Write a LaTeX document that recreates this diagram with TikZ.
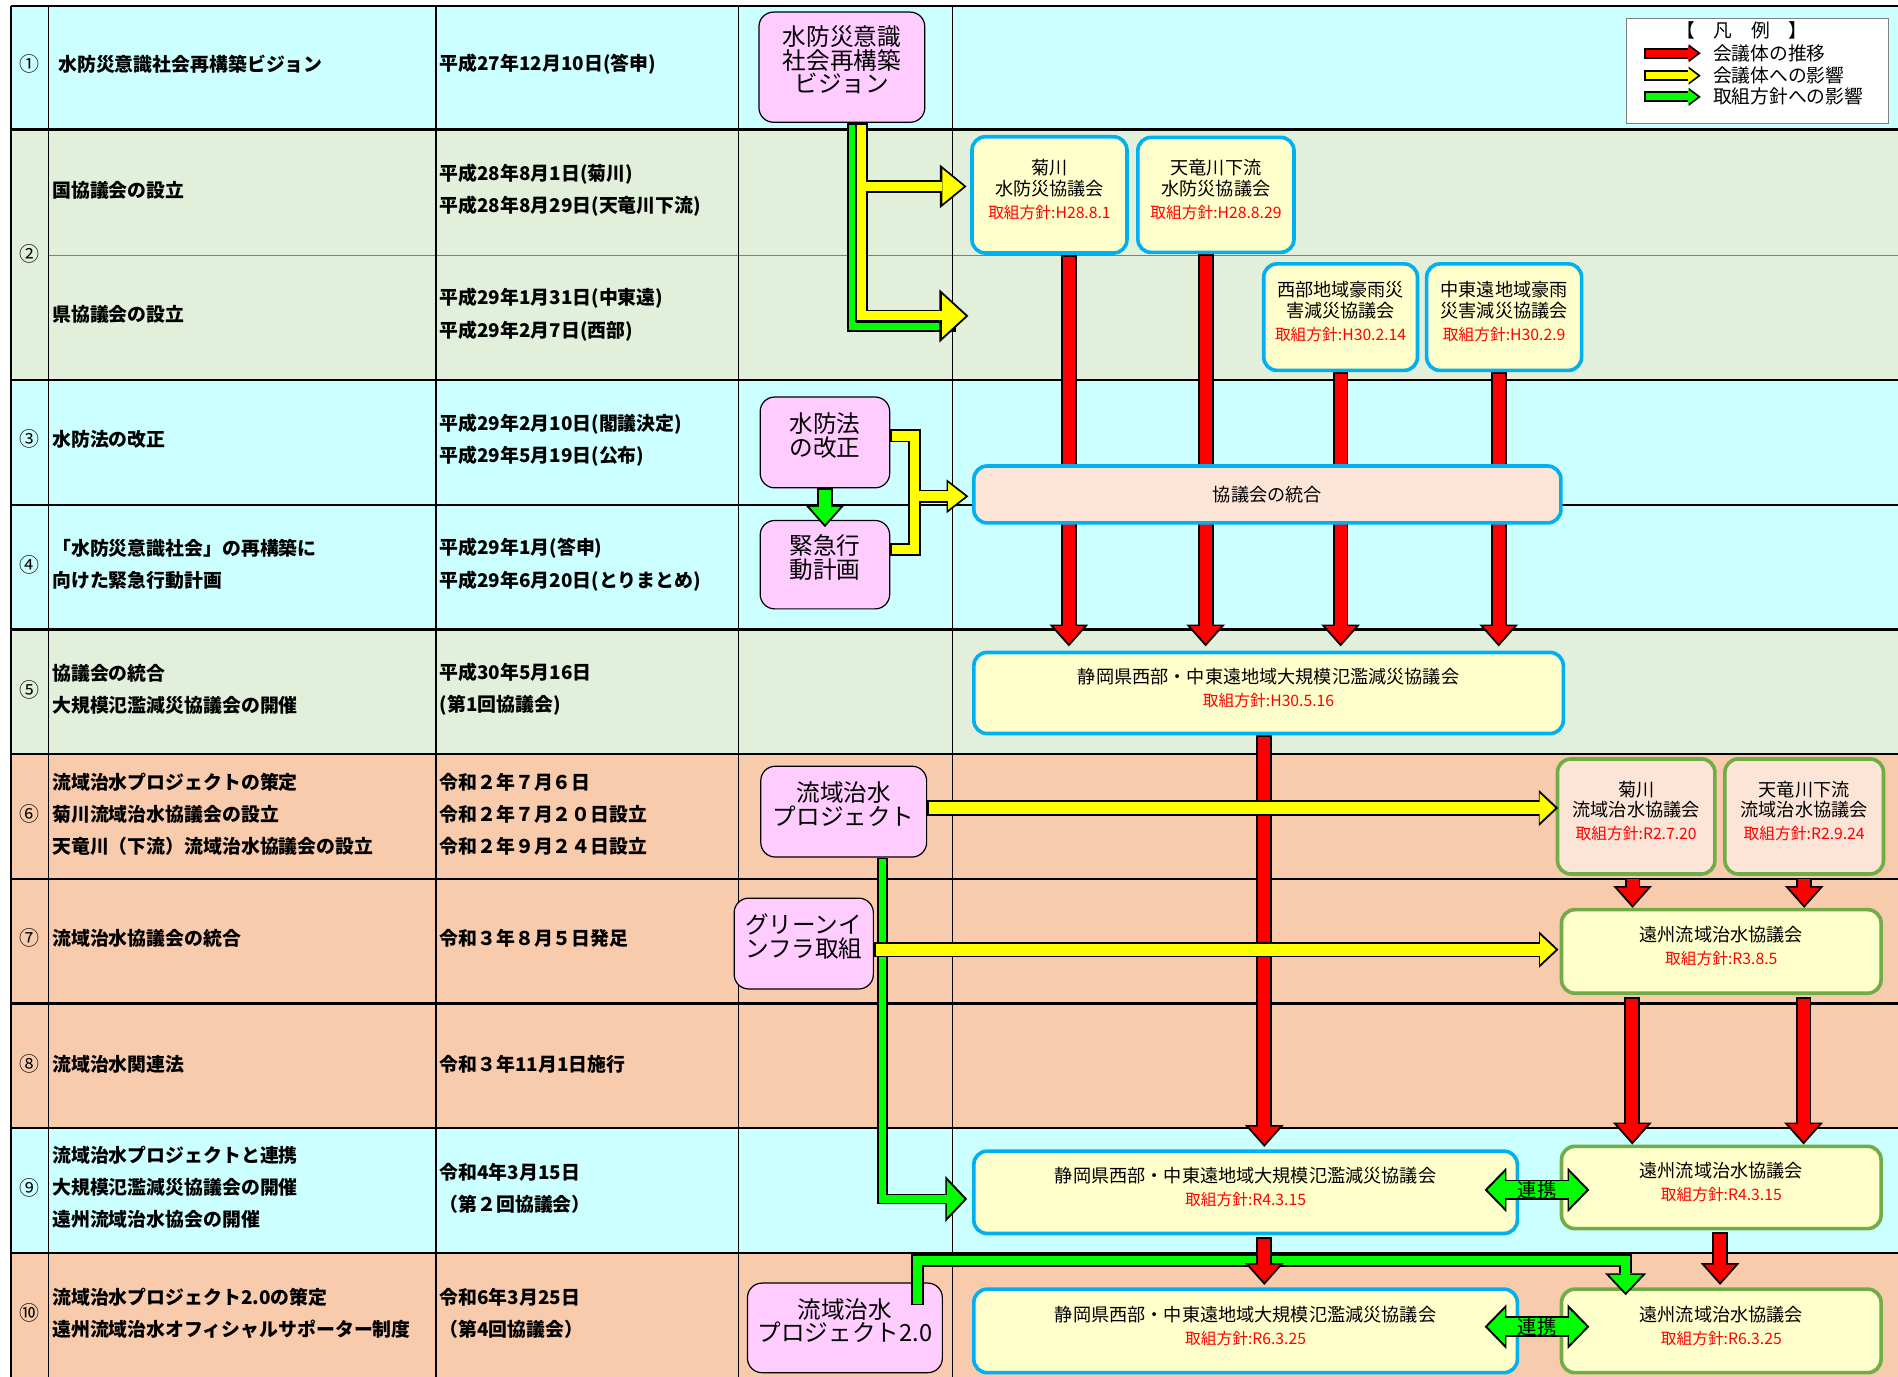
\documentclass[tikz,border=0pt]{standalone}
\usepackage{fontspec}
\setmainfont{Noto Sans CJK JP}
\usetikzlibrary{arrows.meta}
\pgfdeclarelayer{bg}
\pgfdeclarelayer{under}
\pgfsetlayers{bg,under,main}
\definecolor{cyanrow}{HTML}{CCFFFF}
\definecolor{greenrow}{HTML}{E2EFDA}
\definecolor{peachrow}{HTML}{F8CBAD}
\definecolor{pinkfill}{HTML}{FFCCFF}
\definecolor{creamfill}{HTML}{FFFFCC}
\definecolor{peachfill}{HTML}{FCE4D6}
\definecolor{blueline}{HTML}{00B0F0}
\definecolor{greenline}{HTML}{70AD47}
\definecolor{arrred}{HTML}{FF0000}
\definecolor{arryel}{HTML}{FFFF00}
\definecolor{arrgrn}{HTML}{00FF00}
\newcommand{\hoshin}[1]{{\color{arrred}\fontsize{13}{14}\selectfont 取組方針:#1}}
\tikzset{
  tail/.store in=\arrtail, tail=1.5pt,
  bline/.style 2 args={draw=black, line width=#2, postaction={draw=#1, line width=#2-3pt, shorten <=\arrtail, shorten >=1.5pt}},
  barrow/.style n args={4}{draw=black, line width=#2, -{Triangle[width=#3,length=#4,line width=0pt]},
    postaction={draw=#1, line width=#2-3pt, shorten <=\arrtail, shorten >=2.4pt, -{Triangle[width=#3,length=#4,line width=0pt,scale=0.8]}}},
  redarr/.style={barrow={arrred}{13pt}{32pt}{18pt}},
  yelarr/.style={barrow={arryel}{13pt}{30pt}{16pt}},
  lnkarr/.style={draw=black, line width=17pt, {Triangle[width=37pt,length=18pt,line width=0pt]}-{Triangle[width=37pt,length=18pt,line width=0pt]},
    postaction={draw=arrgrn, line width=14pt, shorten <=2.4pt, shorten >=2.4pt, {Triangle[width=37pt,length=18pt,line width=0pt,scale=0.8]}-{Triangle[width=37pt,length=18pt,line width=0pt,scale=0.8]}}},
  num/.style={font=\fontsize{16.5}{16.5}\selectfont, inner sep=0pt},
  tbl/.style={anchor=west, align=left, inner sep=0pt, font=\bfseries\fontsize{15.6}{26.5}\selectfont},
  procbox/.style={draw=black, line width=1pt, fill=pinkfill, rounded corners=12pt, align=center, inner sep=0pt, text depth=13pt, font=\fontsize{19.5}{19.5}\selectfont},
  counbox/.style={rounded corners=11pt, line width=3pt, fill=creamfill, align=center, inner sep=0pt, text depth=10pt, font=\fontsize{15}{17}\selectfont},
  bluebox/.style={counbox, draw=blueline},
  grnbox/.style={counbox, draw=greenline},
  leg/.style={anchor=west, inner sep=0pt, font=\fontsize{15.5}{16}\selectfont},
  lnk/.style={text=black, inner sep=0pt, font=\fontsize{16}{16}\selectfont}
}
\begin{document}
\begin{tikzpicture}[x=1pt,y=-1pt]
\useasboundingbox (0,0) rectangle (1568,1137);
\begin{pgfonlayer}{bg}
\fill[cyanrow] (9,5) rectangle (1570,107);
\fill[greenrow] (9,107) rectangle (1570,314);
\fill[cyanrow] (9,314) rectangle (1570,520);
\fill[greenrow] (9,520) rectangle (1570,623);
\fill[peachrow] (9,623) rectangle (1570,932);
\fill[cyanrow] (9,932) rectangle (1570,1035);
\fill[peachrow] (9,1035) rectangle (1570,1140);
\draw[gray, line width=1pt] (40,211) -- (1570,211);
\foreach \y in {5,107,314,417,520,623,726,829,932,1035}
  \draw[line width=1.8pt] (9,\y) -- (1570,\y);
\foreach \x in {9,40,360,610}
  \draw[line width=1.3pt] (\x,5) -- (\x,1140);
\draw[line width=0.8pt] (787,5) -- (787,1140);
\end{pgfonlayer}

\foreach \lab/\y [count=\i] in {①/53,②/210,③/363,④/467,⑤/570,⑥/672,⑦/775,⑧/879,⑨/981,⑩/1085}
  \node[num] (n\i) at (24.5,\y) {\lab};

\node[tbl] (t1) at (48,53) {水防災意識社会再構築ビジョン};
\node[tbl] (t2a) at (43,157) {国協議会の設立};
\node[tbl] (t2b) at (43,260) {県協議会の設立};
\node[tbl] (t3) at (43,363) {水防法の改正};
\node[tbl] (t4) at (43,466.5) {「水防災意識社会」の再構築に\\向けた緊急行動計画};
\node[tbl] (t5) at (43,569.5) {協議会の統合\\大規模氾濫減災協議会の開催};
\node[tbl] (t6) at (43,672.5) {流域治水プロジェクトの策定\\菊川流域治水協議会の設立\\天竜川（下流）流域治水協議会の設立};
\node[tbl] (t7) at (43,775) {流域治水協議会の統合};
\node[tbl] (t8) at (43,879) {流域治水関連法};
\node[tbl] (t9) at (43,981) {流域治水プロジェクトと連携\\大規模氾濫減災協議会の開催\\遠州流域治水協会の開催};
\node[tbl] (t10) at (43,1085) {流域治水プロジェクト2.0の策定\\遠州流域治水オフィシャルサポーター制度};

\node[tbl] (d1) at (363,53) {平成27年12月10日(答申)};
\node[tbl] (d2a) at (363,157.5) {平成28年8月1日(菊川)\\平成28年8月29日(天竜川下流)};
\node[tbl] (d2b) at (363,260) {平成29年1月31日(中東遠)\\平成29年2月7日(西部)};
\node[tbl] (d3) at (363,363.5) {平成29年2月10日(閣議決定)\\平成29年5月19日(公布)};
\node[tbl] (d4) at (363,466.5) {平成29年1月(答申)\\平成29年6月20日(とりまとめ)};
\node[tbl] (d5) at (363,569.5) {平成30年5月16日\\(第1回協議会)};
\node[tbl] (d6) at (363,672.5) {令和２年７月６日\\令和２年７月２０日設立\\令和２年９月２４日設立};
\node[tbl] (d7) at (363,775) {令和３年８月５日発足};
\node[tbl] (d8) at (363,879) {令和３年11月1日施行};
\node[tbl] (d9) at (363,982) {令和4年3月15日\\（第２回協議会）};
\node[tbl] (d10) at (363,1085) {令和6年3月25日\\（第4回協議会）};

\node[procbox, minimum width=137pt, minimum height=91pt] (vision) at (695.5,55.5) {水防災意識\\社会再構築\\ビジョン};
\node[procbox, minimum width=107pt, minimum height=75pt] (suihou) at (681.5,365.5) {水防法\\の改正};
\node[procbox, minimum width=107pt, minimum height=73pt] (kinkyu) at (681.5,466.5) {緊急行\\動計画};
\node[procbox, minimum width=137pt, minimum height=75pt] (proj) at (697,670.5) {流域治水\\プロジェクト};
\node[procbox, minimum width=115pt, minimum height=75pt] (ginf) at (664,779.5) {グリーンイ\\ンフラ取組};
\node[procbox, minimum width=161pt, minimum height=74pt] (proj2) at (698,1097) {流域治水\\プロジェクト2.0};

\node[bluebox, minimum width=128pt, minimum height=96pt] (kikuW) at (867,161) {菊川\\水防災協議会\\[2pt]\hoshin{H28.8.1}};
\node[bluebox, minimum width=129pt, minimum height=95pt] (tenW) at (1004.5,161) {天竜川下流\\水防災協議会\\[2pt]\hoshin{H28.8.29}};
\node[bluebox, minimum width=127pt, minimum height=88pt] (seibu) at (1107.5,262) {西部地域豪雨災\\害減災協議会\\[2pt]\hoshin{H30.2.14}};
\node[bluebox, minimum width=128pt, minimum height=88pt] (chuto) at (1242.6,262) {中東遠地域豪雨\\災害減災協議会\\[2pt]\hoshin{H30.2.9}};
\node[bluebox, fill=peachfill, text depth=1.5pt, minimum width=485pt, minimum height=47pt] (tougou) at (1047,408.5) {協議会の統合};
\node[bluebox, minimum width=487pt, minimum height=67pt] (shizu1) at (1048,572.5) {静岡県西部・中東遠地域大規模氾濫減災協議会\\[2pt]\hoshin{H30.5.16}};
\node[grnbox, fill=peachfill, minimum width=130pt, minimum height=95pt] (kikuR) at (1351.7,674.5) {菊川\\流域治水協議会\\[2pt]\hoshin{R2.7.20}};
\node[grnbox, fill=peachfill, minimum width=131pt, minimum height=95pt] (tenR) at (1490.5,674.5) {天竜川下流\\流域治水協議会\\[2pt]\hoshin{R2.9.24}};
\node[grnbox, minimum width=264pt, minimum height=69pt] (enshu1) at (1422,786) {遠州流域治水協議会\\[2pt]\hoshin{R3.8.5}};
\node[bluebox, minimum width=449pt, minimum height=68pt] (shizu2) at (1029,985) {静岡県西部・中東遠地域大規模氾濫減災協議会\\[2pt]\hoshin{R4.3.15}};
\node[grnbox, minimum width=264pt, minimum height=68pt] (enshu2) at (1422,981) {遠州流域治水協議会\\[2pt]\hoshin{R4.3.15}};
\node[bluebox, minimum width=449pt, minimum height=69pt] (shizu3) at (1029,1099.5) {静岡県西部・中東遠地域大規模氾濫減災協議会\\[2pt]\hoshin{R6.3.25}};
\node[grnbox, minimum width=264pt, minimum height=69pt] (enshu3) at (1422,1099.5) {遠州流域治水協議会\\[2pt]\hoshin{R6.3.25}};

\node[draw=gray, line width=1pt, fill=white, minimum width=216pt, minimum height=87pt, inner sep=0pt] (legend) at (1452,58.5) {};
\node[font=\fontsize{15.5}{16}\selectfont, inner sep=0pt] (legT) at (1439,25) {【　凡　例　】};
\node[leg] (legR) at (1415,44) {会議体の推移};
\node[leg] (legY) at (1415,62.5) {会議体への影響};
\node[leg] (legG) at (1415,80) {取組方針への影響};
\draw[barrow={arrred}{9pt}{15pt}{10pt}] ([xshift=-57pt]legR.west) -- ([xshift=-10pt]legR.west);
\draw[barrow={arryel}{9pt}{15pt}{10pt}] ([xshift=-57pt]legY.west) -- ([xshift=-10pt]legY.west);
\draw[barrow={arrgrn}{9pt}{15pt}{10pt}] ([xshift=-57pt]legG.west) -- ([xshift=-10pt]legG.west);

\begin{pgfonlayer}{under}
\coordinate (kenG) at (790,269.5);
\coordinate (kenY) at (800,261);
\coordinate (brk) at (755.5,410);
\draw[bline={arrgrn}{9pt}] ([xshift=8.5pt]vision.south) |- (kenG);
\draw[barrow={arryel}{10.5pt}{44pt}{24pt}] ([xshift=16pt]vision.south) |- (kenY);
\draw[barrow={arryel}{10.5pt}{36pt}{22pt}, tail=-5pt] ([xshift=21.5pt,yshift=7pt]vision.south |- kikuW.west) -- ([xshift=-3pt,yshift=7pt]kikuW.west);
\draw[redarr] ([xshift=16pt]kikuW.south) -- ([xshift=16pt,yshift=3.5pt]kikuW.south |- shizu1.north);
\draw[redarr] ([xshift=-8.5pt]tenW.south) -- ([xshift=-8.5pt,yshift=3.5pt]tenW.south |- shizu1.north);
\draw[redarr] (seibu.south) -- ([yshift=3.5pt]seibu.south |- shizu1.north);
\draw[redarr] ([xshift=-4.5pt]chuto.south) -- ([xshift=-4.5pt,yshift=3.5pt]chuto.south |- shizu1.north);
\draw[redarr] ([xshift=-3.5pt]shizu1.south) -- ([xshift=-3.5pt,yshift=2pt]shizu1.south |- shizu2.north);
\draw[barrow={arrgrn}{9pt}{38pt}{18pt}] ([xshift=32pt]proj.south) |- ([xshift=-4pt,yshift=-5.5pt]shizu2.west);
\draw[bline={arryel}{11pt}] ([yshift=5.5pt]suihou.east) -| (brk) |- ([yshift=12.5pt]kinkyu.east);
\draw[barrow={arryel}{11pt}{28pt}{18pt}, tail=-5pt] ([xshift=5.5pt]brk) -- ([xshift=-3pt]brk -| tougou.west);
\end{pgfonlayer}

\draw[barrow={arrgrn}{13.5pt}{32pt}{18pt}] (suihou.south) -- ([yshift=-6pt]kinkyu.north);
\draw[yelarr] ([yshift=3pt]proj.east) -- ([xshift=2pt,yshift=3pt]proj.east -| kikuR.west);
\draw[yelarr] ([yshift=-5pt]ginf.east) -- ([xshift=-1pt,yshift=-5pt]ginf.east -| enshu1.west);
\draw[barrow={arrgrn}{10.5pt}{34pt}{18pt}] ([xshift=-21pt,yshift=-19pt]proj2.north east) |- ([xshift=-79pt,yshift=22pt]enshu3.north) -- ([xshift=-79pt,yshift=-6.5pt]enshu3.north);
\draw[redarr] ([xshift=15.5pt,yshift=-1.5pt]shizu2.south) -- ([xshift=15.5pt,yshift=2pt]shizu2.south |- shizu3.north);
\draw[redarr] ([xshift=-3pt,yshift=-1.5pt]kikuR.south) -- ([xshift=-3pt]kikuR.south |- enshu1.north);
\draw[redarr] ([yshift=-1.5pt]tenR.south) -- (tenR.south |- enshu1.north);
\draw[redarr] ([xshift=-73.5pt,yshift=-1.5pt]enshu1.south) -- ([xshift=-73.5pt]enshu1.south |- enshu2.north);
\draw[redarr] ([xshift=68pt,yshift=-1.5pt]enshu1.south) -- ([xshift=68pt]enshu1.south |- enshu2.north);
\draw[redarr] ([xshift=-1pt,yshift=-1.5pt]enshu2.south) -- ([xshift=-1pt,yshift=2pt]enshu2.south |- enshu3.north);
\draw[lnkarr] ([xshift=-28.5pt,yshift=2pt]shizu2.east) -- ([xshift=24.5pt,yshift=2pt]shizu2.east -| enshu2.west) node[midway, lnk] (renkei1) {連携};
\draw[lnkarr] ([xshift=-28.5pt,yshift=3.5pt]shizu3.east) -- ([xshift=24.5pt,yshift=3.5pt]shizu3.east -| enshu3.west) node[midway, lnk] (renkei2) {連携};
\end{tikzpicture}
\end{document}
